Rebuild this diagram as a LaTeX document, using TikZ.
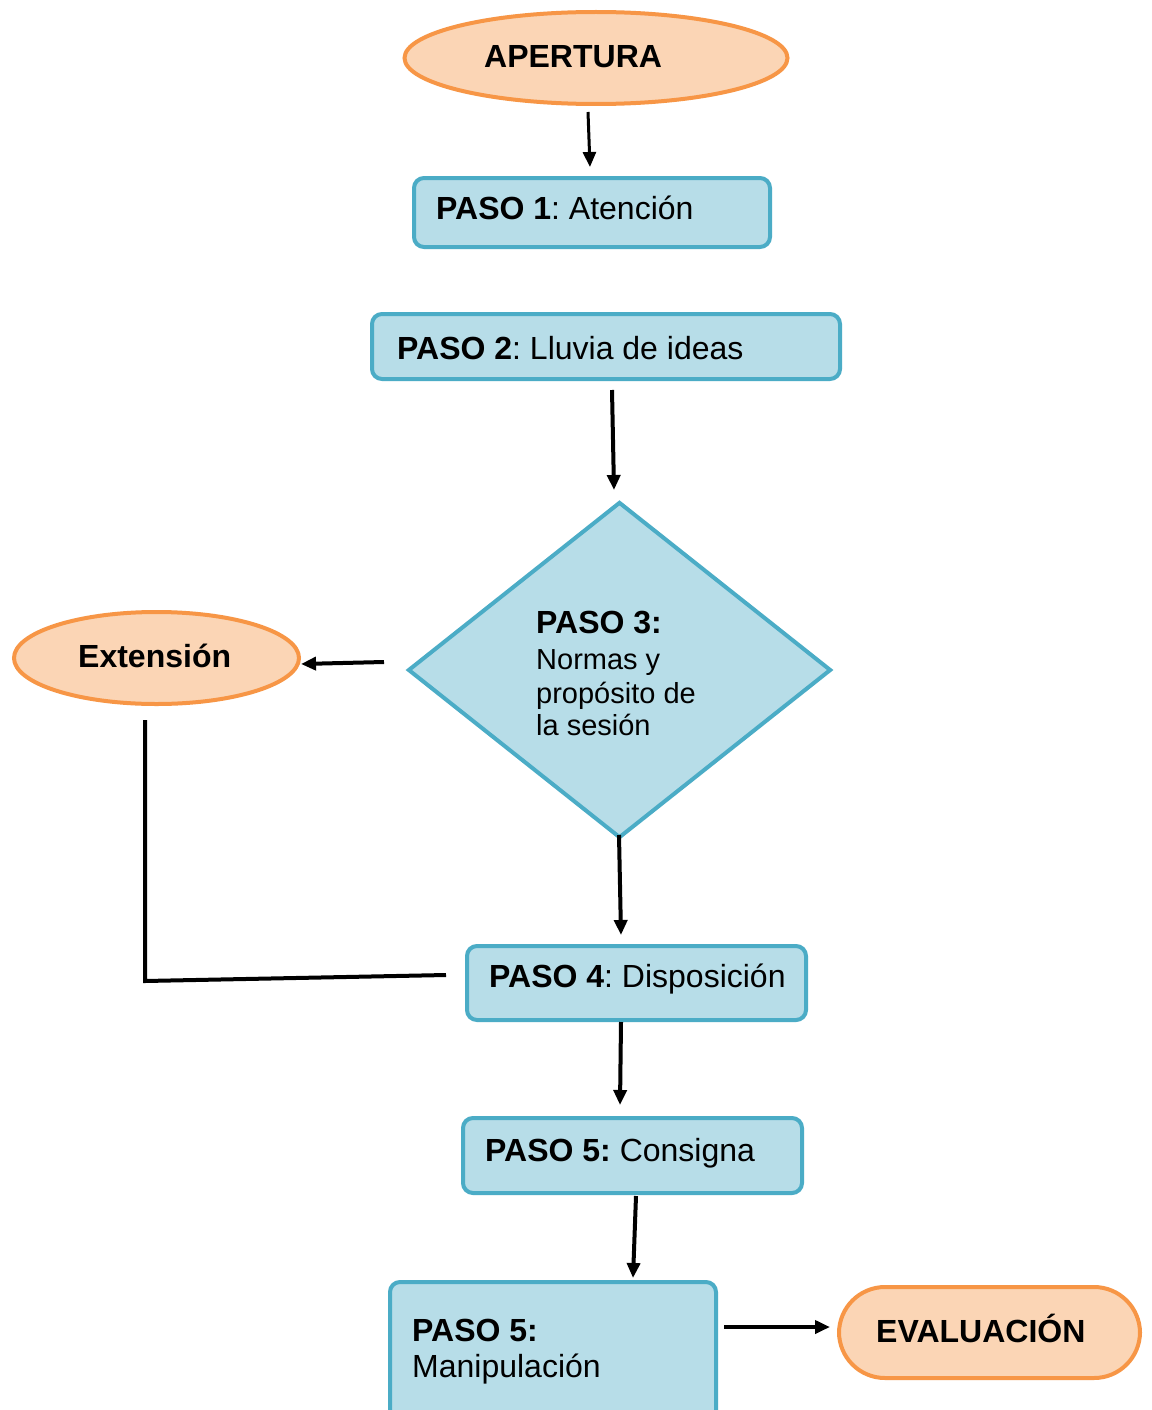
\documentclass[tikz,border=0pt]{standalone}
\usepackage{fontspec}
\setmainfont{Liberation Sans}
\usetikzlibrary{shapes.geometric,arrows.meta,calc}
\definecolor{peach}{HTML}{FBD5B5}
\definecolor{orangeline}{HTML}{F79646}
\definecolor{bluefill}{HTML}{B7DDE8}
\definecolor{blueline}{HTML}{4BACC6}
\frenchspacing
\begin{document}
\begin{tikzpicture}[x=1pt,y=-1pt,
  oval/.style={ellipse, draw=orangeline, fill=peach, line width=4pt, inner sep=0pt},
  stepbox/.style={rectangle, rounded corners=10pt, draw=blueline, fill=bluefill, line width=4pt, inner sep=0pt},
  pill/.style={rectangle, rounded corners=46pt, draw=orangeline, fill=peach, line width=4pt, inner sep=0pt},
  decision/.style={diamond, draw=blueline, fill=bluefill, line width=4pt, inner sep=0pt},
  lbl/.style={anchor=base west, inner sep=0pt, font=\fontsize{32}{36}\selectfont},
  small/.style={anchor=base west, inner sep=0pt, font=\fontsize{29}{34}\selectfont},
  conn/.style={line width=4pt, -{Triangle[length=15pt,width=13pt]}},
  plain/.style={line width=4pt},
]
\useasboundingbox (0,0) rectangle (1151,1410);
\clip (0,0) rectangle (1151,1410);
\fill[white] (0,0) rectangle (1151,1410);

% shapes
\node[oval, minimum width=383, minimum height=92] (ap) at (596,58) {};
\node[stepbox, minimum width=356, minimum height=69] (p1) at (592,212.5) {};
\node[stepbox, minimum width=468, minimum height=65] (p2) at (606,346.5) {};
\node[decision, minimum width=423, minimum height=336] (dia) at (619.5,670) {};
\node[oval, minimum width=285, minimum height=92] (ext) at (156.5,658) {};
\node[stepbox, minimum width=339, minimum height=74] (p4) at (636.5,983) {};
\node[stepbox, minimum width=339, minimum height=75] (p5) at (632.5,1155.5) {};
\node[stepbox, minimum width=326, minimum height=160] (p6) at (553,1362) {};
\node[pill, minimum width=301, minimum height=91] (ev) at (989.5,1332.5) {};

% texts
\node[lbl] (tap) at (484,68) {\bfseries APERTURA};
\node[lbl] (t1) at (436,219) {\textbf{PASO 1}: Atención};
\node[lbl] (t2) at (397,359) {\textbf{PASO 2}: Lluvia de ideas};
\node[lbl] (t3a) at (536,633) {\bfseries PASO 3:};
\node[small] (t3b) at (536,669) {Normas y};
\node[small] (t3c) at (536,703) {propósito de};
\node[small] (t3d) at (536,735) {la sesión};
\node[lbl] (text) at (78,667) {\bfseries Extensión};
\node[lbl] (t4) at (489,987) {\textbf{PASO 4}: Disposición};
\node[lbl] (t5) at (485,1161) {\textbf{PASO 5:} Consigna};
\node[lbl] (t6a) at (412,1341) {\bfseries PASO 5:};
\node[lbl] (t6b) at (412,1377) {Manipulación};
\node[lbl] (tev) at (876,1342) {\bfseries EVALUACIÓN};

% connectors
\draw[conn, line width=3pt] ($(ap.south)+(-8,6)$) -- ($(p1.north)+(-2,-9)$);
\draw[conn] ($(p2.south)+(6,9)$) -- ($(dia.north)+(-5.5,-10)$);
\draw[conn] ($(dia.west)+(-22,-8)$) -- ($(ext.east)+(0,6)$);
\draw[plain] ($(ext.south)+(-11.5,14)$) -- ($(ext.south)+(-11.5,275)$) -- ($(p4.west)+(-19,-8)$);
\draw[conn] ($(dia.south)+(-0.5,-5)$) -- ($(p4.north)+(-15.5,-9)$);
\draw[conn] ($(p4.south)+(-15.5,0)$) -- ($(p5.north)+(-12.5,-11)$);
\draw[conn] ($(p5.south)+(3.5,1)$) -- ($(p6.north)+(80,-2)$);
\draw[conn] ($(p6.east)+(6,-35)$) -- ($(ev.west)+(-7,-5.5)$);
\end{tikzpicture}
\end{document}
